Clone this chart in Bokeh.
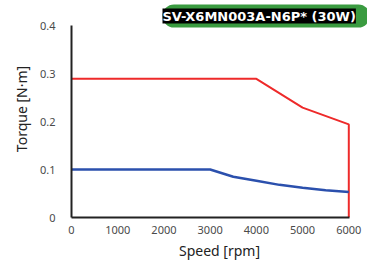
from bokeh.plotting import figure
from bokeh.models import Range1d, Label, FixedTicker, Title
from bokeh.embed import file_html
from bokeh.resources import INLINE

# Data
speed_peak = [0, 4000, 5000, 6000, 6000]
torque_peak = [0.289, 0.289, 0.229, 0.194, 0.0]

speed_rated = [0, 3000, 3500, 4000, 4500, 5000, 5500, 6000]
torque_rated = [0.1, 0.1, 0.085, 0.0765, 0.068, 0.062, 0.057, 0.053]

x_ticks = [0, 1000, 2000, 3000, 4000, 5000, 6000]
y_ticks = [0, 0.1, 0.2, 0.3, 0.4]
y_tick_labels = {0: "0", 0.1: "0.1", 0.2: "0.2", 0.3: "0.3", 0.4: "0.4"}
x_axis_extent = (0, 6015)
y_axis_extent = (0, 0.4)
title_text = "SV-X6MN003A-N6P* (30W)"
x_label = "Speed [rpm]"
y_label = "Torque [N·m]"

W, H = 367, 263
FRAME_L, FRAME_B = 71, 217          # frame spans to the top/right edges of the canvas
PX_PER_RPM = 277.3 / 6000
PX_PER_NM = 192 / 0.4

p = figure(
    output_backend="svg", toolbar_location=None,
    frame_width=W - FRAME_L, frame_height=FRAME_B,
    min_border_left=FRAME_L, min_border_right=0,
    min_border_top=0, min_border_bottom=H - FRAME_B,
    x_range=Range1d(0, (W - FRAME_L) / PX_PER_RPM),
    y_range=Range1d(0, FRAME_B / PX_PER_NM),
)
p.outline_line_color = None
p.grid.visible = False
p.background_fill_color = "white"
p.border_fill_color = "white"

p.line(speed_peak, torque_peak, line_color="#ee2a2a", line_width=2)
p.line(speed_rated, torque_rated, line_color="#2b50ad", line_width=2.5)

for ax in (p.xaxis[0], p.yaxis[0]):
    ax.axis_line_color = "#222222"
    ax.axis_line_width = 2
    ax.major_tick_line_color = None
    ax.minor_tick_line_color = None
    ax.major_tick_out = 0
    ax.major_tick_in = 0
    ax.major_label_text_font = "Noto Sans"
    ax.major_label_text_font_size = "11px"
    ax.major_label_text_color = "#4a4a4a"
    ax.axis_label_text_font = "Noto Sans"
    ax.axis_label_text_font_size = "14px"
    ax.axis_label_text_font_style = "normal"
    ax.axis_label_text_color = "#222222"

p.xaxis.ticker = FixedTicker(ticks=x_ticks)
p.yaxis.ticker = FixedTicker(ticks=y_ticks)
p.xaxis.bounds = x_axis_extent
p.yaxis.bounds = y_axis_extent
p.yaxis.major_label_overrides = y_tick_labels
p.xaxis.axis_label = x_label
p.xaxis.major_label_standoff = 8
p.xaxis.axis_label_standoff = 4
p.yaxis.major_label_standoff = 16

# y-axis title as a side title so it can be centred on the axis line, not the frame
ytitle = Title(
    text=y_label, align="center", offset=9, standoff=11,
    text_font="Noto Sans", text_font_size="14px", text_font_style="normal",
    text_color="#222222",
)
p.add_layout(ytitle, "left")

# Badge title (screen units are measured from the frame's bottom-left corner)
badge_x = 162 - FRAME_L
badge_y = FRAME_B - 15.5
badge_font = "DejaVu Sans"
badge_font_size = "13px"
badge_bg = Label(
    x=badge_x, y=badge_y, x_units="screen", y_units="screen",
    text=title_text, text_font=badge_font, text_font_style="bold",
    text_font_size=badge_font_size, text_color="#3a9b40",
    text_baseline="middle", text_align="left",
    background_fill_color="#3a9b40", border_radius=12,
    padding=dict(left=4, right=10, top=4, bottom=4),
)
badge_fg = Label(
    x=badge_x, y=badge_y, x_units="screen", y_units="screen",
    text=title_text, text_font=badge_font, text_font_style="bold",
    text_font_size=badge_font_size, text_color="white",
    text_baseline="middle", text_align="left",
    background_fill_color="black",
    padding=0,
)
p.add_layout(badge_bg)
p.add_layout(badge_fg)

open("out.html", "w").write(file_html(p, INLINE))
